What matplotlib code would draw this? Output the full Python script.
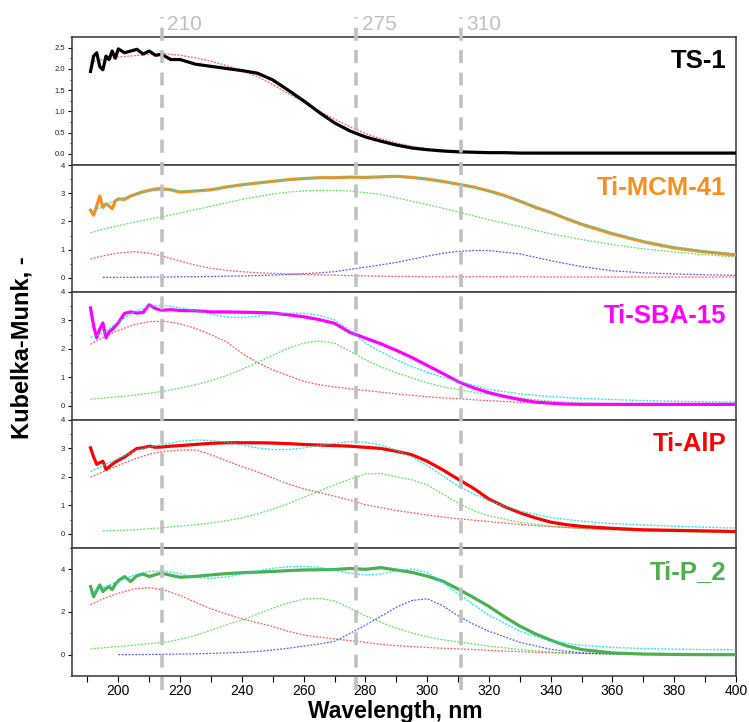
import numpy as np
import matplotlib
matplotlib.use('Agg')
import matplotlib.pyplot as plt
from matplotlib.ticker import MultipleLocator
from matplotlib.transforms import blended_transform_factory

plt.rcParams['font.family'] = ['Liberation Sans', 'DejaVu Sans']

nan = np.nan

# wavelength grids (nm)
data_wl = [191, 192, 193, 194, 195, 196, 197, 198, 199, 200, 202, 204, 206, 208, 210,
           212, 214, 217, 220, 225, 230, 235, 240, 245, 250, 255, 260, 265, 270, 275,
           280, 285, 290, 295, 300, 305, 310, 315, 320, 325, 330, 335, 340, 345, 350,
           360, 370, 380, 390, 400]
fit_wl = [191, 195, 200, 205, 210, 215, 220, 225, 230, 235, 240, 245, 250, 255, 260,
          265, 270, 275, 280, 285, 290, 295, 300, 305, 310, 315, 320, 330, 340, 350,
          360, 370, 380, 390, 400]

# TS-1
ts1_km = [1.94, 2.30, 2.38, 2.05, 1.98, 2.30, 2.22, 2.42, 2.25, 2.47, 2.38, 2.42, 2.46, 2.35, 2.42,
          2.32, 2.34, 2.22, 2.22, 2.11, 2.06, 2.01, 1.96, 1.90, 1.74, 1.50, 1.25, 0.98, 0.73, 0.54,
          0.40, 0.30, 0.21, 0.14, 0.10, 0.07, 0.05, 0.04, 0.03, 0.03, 0.02, 0.02, 0.02, 0.02, 0.02,
          0.02, 0.02, 0.02, 0.02, 0.02]
ts1_fit_red = [2.16, 2.22, 2.28, 2.31, 2.34, 2.36, 2.32, 2.26, 2.18, 2.08, 1.96, 1.82, 1.63, 1.42, 1.22,
               1.01, 0.82, 0.64, 0.48, 0.36, 0.26, 0.18, 0.12, 0.08, 0.06, 0.04, 0.03, 0.02, 0.01, 0.01,
               0.01, 0.01, 0.01, 0.01, 0.01]

# Ti-MCM-41
mcm_km = [2.40, 2.22, 2.55, 2.90, 2.50, 2.62, 2.55, 2.45, 2.72, 2.80, 2.78, 2.90, 2.98, 3.05, 3.10,
          3.15, 3.16, 3.12, 3.04, 3.08, 3.12, 3.22, 3.30, 3.36, 3.42, 3.48, 3.52, 3.55, 3.55, 3.57,
          3.56, 3.58, 3.60, 3.56, 3.50, 3.42, 3.32, 3.22, 3.08, 2.92, 2.72, 2.50, 2.32, 2.10, 1.90,
          1.56, 1.28, 1.06, 0.92, 0.81]
mcm_fit_sum = [2.35, 2.55, 2.78, 2.95, 3.08, 3.12, 3.08, 3.08, 3.13, 3.21, 3.29, 3.36, 3.42, 3.47, 3.51,
               3.54, 3.56, 3.57, 3.57, 3.57, 3.57, 3.55, 3.50, 3.42, 3.32, 3.21, 3.07, 2.72, 2.33, 1.93,
               1.60, 1.31, 1.10, 0.95, 0.85]
mcm_fit_red = [0.67, 0.78, 0.88, 0.93, 0.88, 0.75, 0.60, 0.45, 0.34, 0.27, 0.22, 0.18, 0.16, 0.14, 0.12,
               0.11, 0.10, 0.08, 0.07, 0.06, 0.05, 0.05, 0.04, 0.04, 0.04, 0.04, 0.04, 0.04, 0.03, 0.03,
               0.03, 0.03, 0.03, 0.03, 0.03]
mcm_fit_green = [1.60, 1.72, 1.85, 1.97, 2.08, 2.18, 2.30, 2.42, 2.54, 2.66, 2.78, 2.88, 2.97, 3.04, 3.08,
                 3.10, 3.10, 3.08, 3.02, 2.95, 2.84, 2.72, 2.60, 2.47, 2.34, 2.20, 2.06, 1.82, 1.56, 1.36,
                 1.18, 1.03, 0.92, 0.82, 0.74]
mcm_fit_blue = [nan, 0.02, 0.02, 0.02, 0.03, 0.03, 0.04, 0.04, 0.05, 0.06, 0.07, 0.08, 0.10, 0.12, 0.15,
                0.18, 0.22, 0.30, 0.38, 0.46, 0.55, 0.66, 0.77, 0.87, 0.94, 0.97, 0.97, 0.85, 0.61, 0.40,
                0.25, 0.18, 0.14, 0.11, 0.09]

# Ti-SBA-15
sba_km = [3.44, 2.80, 2.39, 2.70, 2.91, 2.39, 2.60, 2.68, 2.80, 2.92, 3.25, 3.30, 3.26, 3.28, 3.55,
          3.42, 3.36, 3.38, 3.35, 3.34, 3.30, 3.30, 3.29, 3.28, 3.26, 3.20, 3.13, 3.03, 2.90, 2.58,
          2.38, 2.18, 1.95, 1.70, 1.42, 1.14, 0.85, 0.63, 0.46, 0.33, 0.22, 0.13, 0.09, 0.06, 0.05,
          0.05, 0.05, 0.05, 0.05, 0.05]
sba_fit_sum = [2.40, 2.55, 2.95, 3.30, 3.50, 3.52, 3.45, 3.35, 3.22, 3.12, 3.10, 3.15, 3.22, 3.26, 3.25,
               3.18, 3.02, 2.65, 2.20, 1.90, 1.62, 1.38, 1.18, 1.00, 0.86, 0.72, 0.57, 0.42, 0.32, 0.26,
               0.22, 0.18, 0.16, 0.14, 0.13]
sba_fit_red = [2.16, 2.40, 2.65, 2.85, 2.96, 2.97, 2.88, 2.72, 2.50, 2.25, 1.85, 1.52, 1.26, 1.06, 0.86,
               0.74, 0.66, 0.60, 0.54, 0.48, 0.42, 0.37, 0.32, 0.28, 0.25, 0.21, 0.18, 0.12, 0.08, 0.05,
               0.04, 0.03, 0.03, 0.03, 0.03]
sba_fit_green = [0.23, 0.27, 0.32, 0.37, 0.44, 0.52, 0.62, 0.74, 0.88, 1.06, 1.28, 1.52, 1.78, 2.02, 2.20,
                 2.28, 2.20, 1.92, 1.62, 1.37, 1.16, 0.98, 0.81, 0.67, 0.57, 0.48, 0.40, 0.27, 0.16, 0.10,
                 0.07, 0.06, 0.05, 0.05, 0.05]

# Ti-AlP
alp_km = [3.02, 2.70, 2.44, 2.50, 2.55, 2.26, 2.35, 2.44, 2.52, 2.58, 2.70, 2.85, 3.00, 3.02, 3.08,
          3.04, 3.05, 3.08, 3.10, 3.14, 3.18, 3.20, 3.20, 3.20, 3.19, 3.17, 3.14, 3.12, 3.10, 3.08,
          3.04, 3.00, 2.90, 2.78, 2.55, 2.25, 1.92, 1.60, 1.22, 0.96, 0.74, 0.56, 0.41, 0.32, 0.26,
          0.19, 0.14, 0.12, 0.10, 0.08]
alp_fit_sum = [2.18, 2.40, 2.65, 2.90, 3.05, 3.15, 3.25, 3.30, 3.28, 3.22, 3.12, 3.02, 2.96, 2.96, 3.02,
               3.10, 3.18, 3.24, 3.22, 3.12, 2.94, 2.70, 2.40, 2.04, 1.68, 1.40, 1.16, 0.80, 0.57, 0.44,
               0.36, 0.31, 0.27, 0.23, 0.20]
alp_fit_red = [1.99, 2.18, 2.40, 2.62, 2.80, 2.90, 2.94, 2.95, 2.78, 2.57, 2.36, 2.18, 1.96, 1.75, 1.58,
               1.45, 1.32, 1.18, 1.02, 0.92, 0.82, 0.74, 0.66, 0.59, 0.53, 0.48, 0.43, 0.33, 0.25, 0.19,
               0.15, 0.12, 0.10, 0.09, 0.08]
alp_fit_green = [nan, 0.10, 0.12, 0.14, 0.18, 0.22, 0.27, 0.32, 0.38, 0.46, 0.56, 0.70, 0.86, 1.06, 1.28,
                 1.50, 1.72, 1.92, 2.10, 2.12, 2.00, 1.90, 1.72, 1.40, 1.08, 0.82, 0.63, 0.40, 0.27, 0.18,
                 0.13, 0.09, 0.07, 0.05, 0.04]

# Ti-P_2
p2_km = [3.19, 2.72, 3.00, 3.27, 2.96, 3.10, 3.19, 3.05, 3.30, 3.47, 3.66, 3.43, 3.70, 3.78, 3.66,
         3.75, 3.82, 3.72, 3.63, 3.67, 3.74, 3.80, 3.84, 3.87, 3.90, 3.94, 3.97, 3.98, 3.99, 4.04,
         4.00, 4.08, 3.97, 3.86, 3.68, 3.45, 3.08, 2.68, 2.26, 1.78, 1.34, 0.98, 0.68, 0.42, 0.24,
         0.08, 0.03, 0.01, 0.00, 0.00]
p2_fit_sum = [2.85, 3.15, 3.45, 3.72, 3.90, 3.92, 3.80, 3.62, 3.58, 3.64, 3.78, 3.92, 4.05, 4.12, 4.14,
              4.10, 3.96, 3.82, 3.74, 3.78, 3.92, 4.02, 3.85, 3.40, 2.85, 2.35, 1.85, 1.10, 0.64, 0.44,
              0.34, 0.29, 0.26, 0.24, 0.23]
p2_fit_red = [2.34, 2.62, 2.88, 3.08, 3.14, 3.02, 2.78, 2.45, 2.15, 1.90, 1.68, 1.50, 1.32, 1.10, 0.92,
              0.82, 0.74, 0.66, 0.58, 0.48, 0.42, 0.38, 0.34, 0.30, 0.27, 0.24, 0.20, 0.14, 0.09, 0.06,
              0.04, 0.03, 0.02, 0.02, 0.02]
p2_fit_green = [0.27, 0.32, 0.38, 0.45, 0.52, 0.58, 0.72, 0.90, 1.15, 1.40, 1.62, 1.90, 2.18, 2.42, 2.60,
                2.64, 2.52, 2.18, 1.82, 1.52, 1.24, 1.02, 0.84, 0.70, 0.60, 0.50, 0.40, 0.24, 0.12, 0.06,
                0.03, 0.02, 0.02, 0.02, 0.02]
p2_fit_blue = [nan, nan, 0.00, 0.00, 0.01, 0.02, 0.03, 0.04, 0.06, 0.08, 0.11, 0.15, 0.22, 0.30, 0.40,
               0.50, 0.62, 1.00, 1.38, 1.80, 2.22, 2.54, 2.62, 2.30, 1.82, 1.42, 1.10, 0.58, 0.25, 0.08,
               0.03, 0.02, 0.02, 0.02, 0.02]

sample_names = ['TS-1', 'Ti-MCM-41', 'Ti-SBA-15', 'Ti-AlP', 'Ti-P_2']
sample_colors = ['black', '#f7901e', '#ff00ff', '#ff0000', '#4cb050']
sample_km = [ts1_km, mcm_km, sba_km, alp_km, p2_km]
sample_sum = [None, mcm_fit_sum, sba_fit_sum, alp_fit_sum, p2_fit_sum]
sample_red = [ts1_fit_red, mcm_fit_red, sba_fit_red, alp_fit_red, p2_fit_red]
sample_green = [None, mcm_fit_green, sba_fit_green, alp_fit_green, p2_fit_green]
sample_blue = [None, mcm_fit_blue, None, None, p2_fit_blue]

guide_wl = [214, 277, 311]
guide_labels = ['210', '275', '310']

# panel layout, pixels from top
W, H = 749, 722
left_px, right_px = 72, 736
panel_edges = [37, 165, 292, 420, 548, 676]
ylims = [(-0.26, 2.75), (-0.5, 4.0), (-0.5, 4.0), (-0.5, 4.0), (-1.0, 5.0)]
ymajor = [0.5, 1, 1, 1, 2]
yminor = [0.25, 0.5, 0.5, 0.5, 1]

fig = plt.figure(figsize=(W / 100, H / 100), dpi=100)
axes = []
for i in range(5):
    top, bot = panel_edges[i], panel_edges[i + 1]
    ax = fig.add_axes([left_px / W, 1 - bot / H, (right_px - left_px) / W, (bot - top) / H])
    axes.append(ax)

for i, ax in enumerate(axes):
    comp_style = dict(lw=0.9, ls=(0, (1.5, 1.2)), alpha=0.75)
    if sample_red[i] is not None:
        ax.plot(fit_wl, sample_red[i], color='#ff2020', **comp_style)
    if sample_green[i] is not None:
        ax.plot(fit_wl, sample_green[i], color='#22dd22', **comp_style)
    if sample_blue[i] is not None:
        ax.plot(fit_wl, sample_blue[i], color='#2020ff', **comp_style)
    ax.plot(data_wl, sample_km[i], color=sample_colors[i], lw=2.3, solid_joinstyle='round', zorder=3)
    if sample_sum[i] is not None:
        ax.plot(fit_wl, sample_sum[i], color='#00e0e0', lw=1.0, ls=(0, (1.5, 1.0)), alpha=0.8, zorder=4)

    ax.set_xlim(185, 400)
    ax.set_ylim(*ylims[i])
    ax.yaxis.set_major_locator(MultipleLocator(ymajor[i]))
    ax.yaxis.set_minor_locator(MultipleLocator(yminor[i]))
    if i == 0:
        ax.yaxis.set_major_formatter(plt.FormatStrFormatter('%.1f'))
    ax.tick_params(axis='y', which='major', direction='out', length=3, width=0.8,
                   labelsize=5.5, labelcolor='#222222', pad=2)
    ax.tick_params(axis='y', which='minor', direction='out', length=1.8, width=0.6)
    for sp in ax.spines.values():
        sp.set_linewidth(1.2)
        sp.set_color('#444444')
    ax.text(0.985, 0.76, sample_names[i], transform=ax.transAxes, ha='right', va='baseline',
            fontsize=18.5, fontweight='bold', color=sample_colors[i], zorder=6)
    if i < 4:
        ax.tick_params(axis='x', which='both', bottom=False, labelbottom=False)

axb = axes[-1]
axb.xaxis.set_major_locator(MultipleLocator(20))
axb.xaxis.set_minor_locator(MultipleLocator(10))
axb.tick_params(axis='x', which='both', direction='out', length=4, width=0.8,
                labelsize=10, pad=1.5)

# dashed guide lines running across all panels
trans = blended_transform_factory(axb.transData, axb.transAxes)
pan_h = panel_edges[5] - panel_edges[4]
y_lo = -(690 - panel_edges[5]) / pan_h
y_hi = (panel_edges[5] - 17) / pan_h
y_txt = (panel_edges[5] - 24) / pan_h
for wl, lab in zip(guide_wl, guide_labels):
    axb.plot([wl, wl], [y_lo, y_hi], transform=trans, clip_on=False, color='#c0c0c0',
             lw=2.6, ls=(0, (3.6, 2.6)), zorder=10)
    axb.annotate(lab, xy=(wl, y_txt), xycoords=trans, xytext=(4, 0), textcoords='offset points',
                 ha='left', va='center', fontsize=15, color='#c0c0c0', annotation_clip=False)

fig.text(395 / W, 1 - 718 / H, 'Wavelength, nm', ha='center', va='baseline',
         fontsize=16.5, fontweight='bold')
fig.text(22 / W, 1 - 348 / H, 'Kubelka-Munk, -', ha='center', va='center', rotation=90,
         fontsize=17, fontweight='bold')

fig.savefig('out.png', dpi=100)
